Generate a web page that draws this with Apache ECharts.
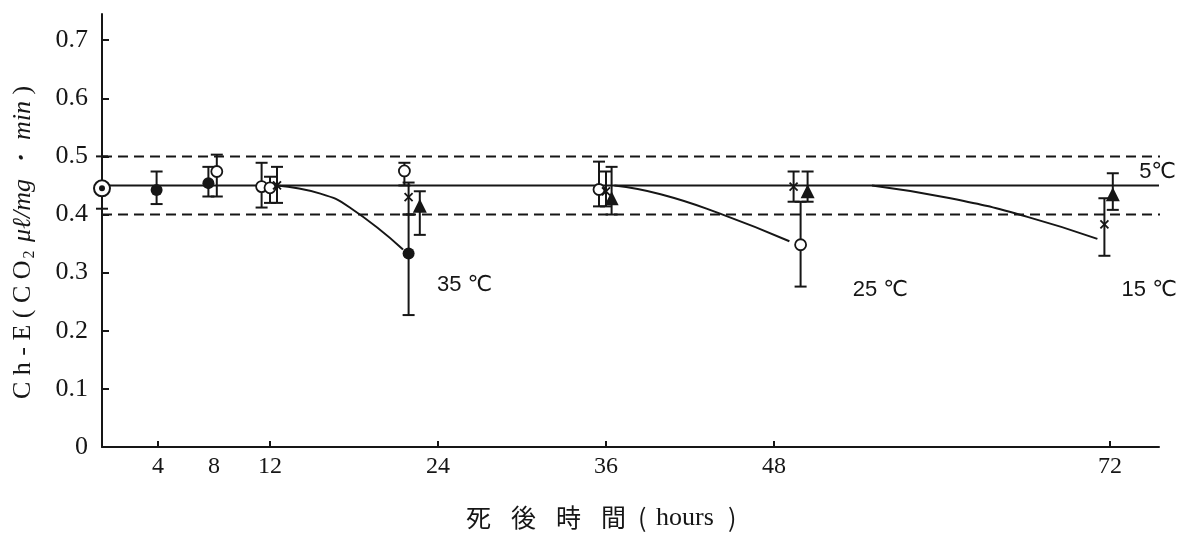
<!DOCTYPE html>
<html>
<head>
<meta charset="utf-8">
<script src="https://cdn.jsdelivr.net/npm/echarts@6/dist/echarts.min.js"></script>
<style>
  html, body { margin: 0; padding: 0; background: #ffffff; }
  #chart { width: 1183px; height: 541px; }
</style>
</head>
<body>
<div id="chart"></div>
<script>
// Ch-E activity (CO2 µl/mg·min) against hours after death, by storage temperature.

// tick labels
const xTickLabels = [4, 8, 12, 24, 36, 48, 72];
const xTickMarks = [4, 12, 24, 36, 48, 72];
const yTickLabels = [0, 0.1, 0.2, 0.3, 0.4, 0.5, 0.6, 0.7];

// initial value (all groups, 0 h)
const startH = [0];
const startV = [0.445];
const startLo = [0.41];
const startHi = [0.50];

// 35 ℃ (filled circles)
const t35H = [3.9, 7.6, 21.9];
const t35V = [0.442, 0.454, 0.333];
const t35Lo = [0.418, 0.431, 0.227];
const t35Hi = [0.474, 0.482, 0.40];

// 25 ℃ (open circles)
const t25H = [8.2, 11.4, 12.0, 21.6, 35.5, 49.9];
const t25V = [0.474, 0.448, 0.446, 0.475, 0.443, 0.348];
const t25Lo = [0.431, 0.412, 0.42, 0.45, 0.414, 0.276];
const t25Hi = [0.503, 0.489, 0.465, 0.489, 0.491, 0.422];

// 15 ℃ (crosses)
const t15H = [12.5, 21.9, 36.0, 49.4, 71.6];
const t15V = [0.45, 0.43, 0.44, 0.448, 0.383];
const t15Lo = [0.42, 0.40, 0.414, 0.422, 0.329];
const t15Hi = [0.482, 0.455, 0.474, 0.474, 0.428];

// 5 ℃ (filled triangles)
const t5H = [22.7, 36.4, 50.4, 72.2];
const t5V = [0.415, 0.428, 0.44, 0.435];
const t5Lo = [0.365, 0.40, 0.422, 0.408];
const t5Hi = [0.44, 0.482, 0.474, 0.471];

// decline curves
const curve35H = [12.5, 15.6, 17.7, 21.5];
const curve35V = [0.45, 0.436, 0.412, 0.340];
const curve25H = [36.6, 39.9, 44.1, 49.1];
const curve25V = [0.45, 0.435, 0.402, 0.354];
const curve15H = [55.0, 60.6, 66.1, 71.1];
const curve15V = [0.45, 0.428, 0.396, 0.358];

// 5 ℃ level and normal range
const level5H = [0, 75.5];
const level5V = [0.45, 0.45];
const rangeUpper = 0.5;
const rangeLower = 0.4;
const rangeH = [0, 77.6];

const tempLabels = ['35 ℃', '25 ℃', '15 ℃', '5℃'];
const xTitleParts = ['死', '後', '時', '間', '(', 'hours', ')'];

const INK = '#161616';
const SERIF = '"Liberation Serif", "DejaVu Serif", serif';
const CJK = '"Noto Sans CJK JP", "Noto Sans CJK SC", sans-serif';

const pts = (h, v) => h.map((x, i) => [x, v[i]]);
const bars = (h, lo, hi) => h.map((x, i) => [x, lo[i], hi[i]]);

function errorBars(data) {
  return {
    type: 'custom',
    z: 3,
    silent: true,
    data: data,
    renderItem: function (params, api) {
      const x = api.value(0);
      const top = api.coord([x, api.value(2)]);
      const bot = api.coord([x, api.value(1)]);
      const w = 6;
      const st = { stroke: INK, lineWidth: 2 };
      return {
        type: 'group',
        children: [
          { type: 'line', shape: { x1: top[0], y1: top[1], x2: bot[0], y2: bot[1] }, style: st },
          { type: 'line', shape: { x1: top[0] - w, y1: top[1], x2: top[0] + w, y2: top[1] }, style: st },
          { type: 'line', shape: { x1: bot[0] - w, y1: bot[1], x2: bot[0] + w, y2: bot[1] }, style: st }
        ]
      };
    }
  };
}

function plainLine(data, extra) {
  return Object.assign({
    type: 'line',
    data: data,
    symbol: 'none',
    silent: true,
    z: 2,
    lineStyle: { color: INK, width: 2 }
  }, extra || {});
}

function note(text, x, y) {
  return {
    type: 'scatter',
    silent: true,
    symbolSize: 0,
    z: 5,
    itemStyle: { opacity: 1 },
    data: [[x, y]],
    label: {
      show: true,
      position: 'inside',
      formatter: text,
      color: INK,
      opacity: 1,
      textBorderWidth: 0,
      fontSize: 22,
      fontFamily: '"Liberation Sans Narrow", "Liberation Sans", "DejaVu Sans", sans-serif'
    }
  };
}

// x-axis title laid out with the wide letter spacing of the printed figure
const xTitleStep = [0, 45, 90, 135, 172, 190, 262];
const xTitle = {
  type: 'group',
  left: 466,
  top: 505,
  children: xTitleParts.map((t, i) => ({
    type: 'text',
    x: xTitleStep[i],
    y: 0,
    style: {
      text: t,
      fill: INK,
      font: (i === 5 ? '26px ' + SERIF : '25px ' + CJK)
    }
  }))
};

const chart = echarts.init(document.getElementById('chart'), null, { renderer: 'canvas' });

chart.setOption({
  backgroundColor: '#ffffff',
  animation: false,
  grid: { left: 102, right: 24, top: 14, bottom: 94, outerBoundsMode: 'none', containLabel: false },
  xAxis: {
    type: 'value',
    min: 0,
    max: 75.5,
    splitLine: { show: false },
    axisLine: { lineStyle: { color: INK, width: 2 } },
    axisTick: { inside: true, length: 6, customValues: xTickMarks, lineStyle: { color: INK, width: 2 } },
    axisLabel: {
      customValues: xTickLabels,
      color: INK,
      fontSize: 24,
      fontFamily: SERIF,
      margin: 8
    }
  },
  yAxis: {
    type: 'value',
    min: 0,
    max: 0.745,
    splitLine: { show: false },
    axisLine: { lineStyle: { color: INK, width: 2 } },
    axisTick: { inside: true, length: 7, customValues: yTickLabels, lineStyle: { color: INK, width: 2 } },
    axisLabel: {
      customValues: yTickLabels,
      formatter: v => (v === 0 ? '0' : v.toFixed(1)),
      color: INK,
      fontSize: 26,
      fontFamily: SERIF,
      margin: 14
    },
    name: '{a|C h - E ( C O}{s|2}{i| μℓ/mg ・ min }{a|)}',
    nameLocation: 'middle',
    nameRotate: 90,
    nameGap: 64,
    nameTextStyle: {
      padding: [0, 24, 0, 0],
      rich: {
        a: { fontSize: 26, fontFamily: SERIF, color: INK },
        s: { fontSize: 16, fontFamily: SERIF, color: INK, padding: [14, 2, 0, 2] },
        i: { fontSize: 26, fontFamily: SERIF, fontStyle: 'italic', color: INK }
      }
    }
  },
  graphic: [xTitle],
  series: [
    // normal range (dashed)
    plainLine(pts(rangeH, [rangeUpper, rangeUpper]), { clip: false, z: 1, lineStyle: { color: INK, width: 2, type: [10, 6] } }),
    plainLine(pts(rangeH, [rangeLower, rangeLower]), { clip: false, z: 1, lineStyle: { color: INK, width: 2, type: [10, 6] } }),
    // 5 ℃ level
    plainLine(pts(level5H, level5V)),
    // decline curves
    plainLine(pts(curve35H, curve35V), { smooth: 0.5 }),
    plainLine(pts(curve25H, curve25V), { smooth: 0.5 }),
    plainLine(pts(curve15H, curve15V), { smooth: 0.5 }),
    // error bars
    errorBars(bars(startH, startLo, startHi)),
    errorBars(bars(t35H, t35Lo, t35Hi)),
    errorBars(bars(t25H, t25Lo, t25Hi)),
    errorBars(bars(t15H, t15Lo, t15Hi)),
    errorBars(bars(t5H, t5Lo, t5Hi)),
    // markers
    {
      type: 'scatter', z: 4, silent: true, symbol: 'circle', symbolSize: 16,
      itemStyle: { color: '#ffffff', borderColor: INK, borderWidth: 2, opacity: 1 },
      data: pts(startH, startV)
    },
    {
      type: 'scatter', z: 4, silent: true, symbol: 'circle', symbolSize: 6,
      itemStyle: { color: INK, opacity: 1 },
      data: pts(startH, startV)
    },
    {
      type: 'scatter', z: 4, silent: true, symbol: 'circle', symbolSize: 12,
      itemStyle: { color: INK, opacity: 1 },
      data: pts(t35H, t35V)
    },
    {
      type: 'scatter', z: 4, silent: true, symbol: 'circle', symbolSize: 11,
      itemStyle: { color: '#ffffff', borderColor: INK, borderWidth: 1.8, opacity: 1 },
      data: pts(t25H, t25V)
    },
    {
      type: 'scatter', z: 4, silent: true, symbol: 'path://M0,0L10,10M10,0L0,10', symbolSize: 8,
      itemStyle: { color: 'none', borderColor: INK, borderWidth: 1.8, opacity: 1 },
      data: pts(t15H, t15V)
    },
    {
      type: 'scatter', z: 4, silent: true, symbol: 'triangle', symbolSize: 14,
      itemStyle: { color: INK, opacity: 1 },
      data: pts(t5H, t5V)
    },
    // temperature notes
    note(tempLabels[0], 25.9, 0.279),
    note(tempLabels[1], 55.6, 0.270),
    note(tempLabels[2], 74.8, 0.270),
    note(tempLabels[3], 75.4, 0.474)
  ]
});
</script>
</body>
</html>
